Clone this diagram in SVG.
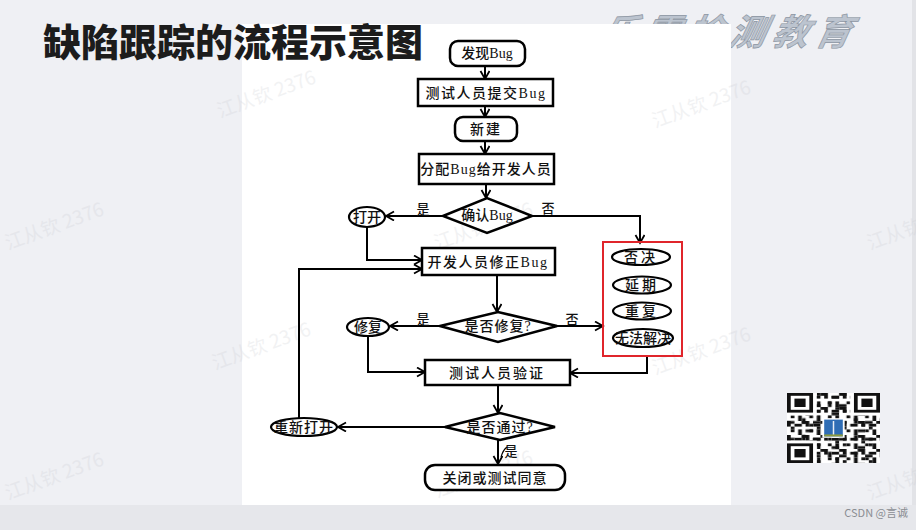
<svg xmlns="http://www.w3.org/2000/svg" width="916" height="530" viewBox="0 0 916 530">
<defs>
<marker id="arr" markerWidth="12" markerHeight="12" refX="9" refY="5" orient="auto" markerUnits="userSpaceOnUse">
<path d="M1,0.5 L9,5 L1,9.5" fill="none" stroke="#000" stroke-width="1.8"/>
</marker>
<pattern id="qa" width="5" height="5" patternUnits="userSpaceOnUse">
<rect x="0" y="0" width="1" height="2" fill="#111"/><rect x="2" y="1" width="2" height="1" fill="#111"/><rect x="1" y="3" width="1" height="1" fill="#111"/><rect x="3" y="3" width="1" height="2" fill="#111"/><rect x="4" y="0" width="1" height="1" fill="#111"/>
</pattern>
<pattern id="qb" width="7" height="6" patternUnits="userSpaceOnUse">
<rect x="1" y="0" width="1" height="1" fill="#111"/><rect x="5" y="1" width="2" height="1" fill="#111"/><rect x="0" y="4" width="2" height="1" fill="#111"/><rect x="4" y="3" width="1" height="2" fill="#111"/><rect x="6" y="5" width="1" height="1" fill="#111"/>
</pattern>
</defs>
<style>
.bg{fill:#eff0f4}
.box{fill:#fff;stroke:#000;stroke-width:2.5}
.oval{fill:#fff;stroke:#000;stroke-width:2.2}
.t{font-family:"Liberation Serif","Noto Sans CJK SC",serif;font-size:14px;font-weight:500;fill:#111;text-anchor:middle;dominant-baseline:central}
.lbl{font-family:"Liberation Serif","Noto Sans CJK SC",serif;font-size:13px;font-weight:500;fill:#111;text-anchor:middle;dominant-baseline:central}
.edge{fill:none;stroke:#000;stroke-width:2}
.wm{font-family:"Noto Sans CJK SC",sans-serif;font-size:19px;fill:#c4c6cc;opacity:0.22}
</style>
<rect class="bg" x="0" y="0" width="916" height="530"/>
<rect x="0" y="505" width="916" height="25" fill="#e6e7eb"/>
<rect x="912" y="0" width="4" height="505" fill="#e2e3e7"/>
<text x="600" y="45" font-family="Noto Sans CJK SC,sans-serif" font-size="36" font-weight="bold" font-style="italic" letter-spacing="7" fill="#bcc4cf" stroke="#8c95a2" stroke-width="0.7" transform="skewX(-12) translate(8,0)">乐霸检测教育</text>
<rect x="242" y="24" width="489" height="481" fill="#fff"/>
<text x="43" y="56" font-family="Noto Sans CJK SC,sans-serif" font-size="38" font-weight="900" fill="#1c1c1c">缺陷跟踪的流程示意图</text>
<g id="watermarks">
<text class="wm" transform="translate(8,250) rotate(-20)">江从钦 2376</text>
<text class="wm" transform="translate(8,500) rotate(-20)">江从钦 2376</text>
<text class="wm" transform="translate(220,118) rotate(-20)">江从钦 2376</text>
<text class="wm" transform="translate(655,128) rotate(-20)">江从钦 2376</text>
<text class="wm" transform="translate(437,250) rotate(-20)">江从钦 2376</text>
<text class="wm" transform="translate(215,370) rotate(-20)">江从钦 2376</text>
<text class="wm" transform="translate(655,375) rotate(-20)">江从钦 2376</text>
<text class="wm" transform="translate(870,250) rotate(-20)">江从钦 2376</text>
<text class="wm" transform="translate(870,500) rotate(-20)">江从钦 2376</text>
<text class="wm" transform="translate(437,498) rotate(-20)">江从钦 2376</text>
</g>
<g id="connectors">
<path class="edge" d="M485,66 V79" marker-end="url(#arr)"/>
<path class="edge" d="M485,106 V117" marker-end="url(#arr)"/>
<path class="edge" d="M485,141 V154" marker-end="url(#arr)"/>
<path class="edge" d="M486,184 V198" marker-end="url(#arr)"/>
<path class="edge" d="M443,216 H386" marker-end="url(#arr)"/>
<path class="edge" d="M532,216 H640 V243" marker-end="url(#arr)"/>
<path class="edge" d="M367,227 V260 H422" marker-end="url(#arr)"/>
<path class="edge" d="M497,275 V312" marker-end="url(#arr)"/>
<path class="edge" d="M440,326 H390" marker-end="url(#arr)"/>
<path class="edge" d="M557,326 H603" marker-end="url(#arr)"/>
<path class="edge" d="M368,335 V372 H425" marker-end="url(#arr)"/>
<path class="edge" d="M647,356 V373 H570" marker-end="url(#arr)"/>
<path class="edge" d="M498,385 V413" marker-end="url(#arr)"/>
<path class="edge" d="M445,427 H338" marker-end="url(#arr)"/>
<path class="edge" d="M299,418 V269 H422" marker-end="url(#arr)"/>
<path class="edge" d="M498,440 V464" marker-end="url(#arr)"/>
<path d="M501,457 Q503,450 507,447" fill="none" stroke="#000" stroke-width="1.2"/>
<text class="lbl" x="423" y="209">是</text>
<text class="lbl" x="548" y="208">否</text>
<text class="lbl" x="423" y="319">是</text>
<text class="lbl" x="572" y="319">否</text>
<text class="lbl" x="511" y="451">是</text>
</g>
<g id="n_found"><rect class="box" x="450" y="41" width="75" height="25" rx="8"/><text class="t" x="487" y="53">发现Bug</text></g>
<g id="n_submit"><rect class="box" x="418" y="79" width="135" height="27"/><text class="t" x="486" y="93" letter-spacing="1.5">测试人员提交Bug</text></g>
<g id="n_new"><rect class="box" x="455" y="117" width="62" height="24" rx="8"/><text class="t" x="486" y="129" letter-spacing="2">新建</text></g>
<g id="n_assign"><rect class="box" x="419" y="154" width="135" height="30"/><text class="t" x="486" y="169" letter-spacing="1">分配Bug给开发人员</text></g>
<g id="n_confirm"><polygon class="box" points="443,216 487,198 532,216 487,233"/><text class="t" x="487" y="215">确认Bug</text></g>
<g id="n_open"><ellipse class="oval" cx="367" cy="217" rx="18" ry="10"/><text class="t" x="367" y="217">打开</text></g>
<g id="n_fix_dev"><rect class="box" x="422" y="248" width="133" height="27"/><text class="t" x="488" y="262" letter-spacing="1.5">开发人员修正Bug</text></g>
<g id="n_isfix"><polygon class="box" points="440,326 498,312 557,326 498,342"/><text class="t" x="498" y="326" letter-spacing="1">是否修复?</text></g>
<g id="n_fixed"><ellipse class="oval" cx="368" cy="327" rx="21" ry="9"/><text class="t" x="368" y="327">修复</text></g>
<g id="n_group"><rect x="603" y="242" width="79" height="114" fill="none" stroke="#e0252b" stroke-width="2"/></g>
<g id="n_reject"><ellipse class="oval" cx="641" cy="257" rx="29" ry="8"/><text class="t" x="641" y="257" letter-spacing="3">否决</text></g>
<g id="n_defer"><ellipse class="oval" cx="642" cy="285" rx="29" ry="8.5"/><text class="t" x="642" y="285" letter-spacing="3">延期</text></g>
<g id="n_dup"><ellipse class="oval" cx="642" cy="311" rx="29" ry="8.5"/><text class="t" x="642" y="311" letter-spacing="3">重复</text></g>
<g id="n_cant"><ellipse class="oval" cx="643" cy="338" rx="30" ry="9"/><text class="t" x="643" y="338">无法解决</text></g>
<g id="n_verify"><rect class="box" x="425" y="360" width="145" height="25"/><text class="t" x="497" y="373" font-size="13" letter-spacing="2">测试人员验证</text></g>
<g id="n_pass"><polygon class="box" points="445,427 500,413 555,427 500,440"/><text class="t" x="500" y="427" font-size="13" letter-spacing="1">是否通过?</text></g>
<g id="n_reopen"><ellipse class="oval" cx="304" cy="427" rx="33" ry="9"/><text class="t" x="304" y="427" font-size="13" letter-spacing="1">重新打开</text></g>
<g id="n_close"><rect class="box" x="425" y="465" width="140" height="25" rx="10"/><text class="t" x="495" y="478" font-size="13" letter-spacing="1">关闭或测试同意</text></g>
<g id="qr" transform="translate(787,393) scale(3.72,2.8)">
<rect x="0" y="0" width="25" height="25" fill="#fff"/>
<rect x="0" y="0" width="25" height="25" fill="url(#qa)"/>
<rect x="0" y="0" width="25" height="25" fill="url(#qb)"/>
<rect x="0" y="0" width="8" height="8" fill="#fff"/><rect x="17" y="0" width="8" height="8" fill="#fff"/><rect x="0" y="17" width="8" height="8" fill="#fff"/>
<rect x="0" y="0" width="7" height="7" fill="#111"/><rect x="1" y="1" width="5" height="5" fill="#fff"/><rect x="2" y="2" width="3" height="3" fill="#111"/>
<rect x="18" y="0" width="7" height="7" fill="#111"/><rect x="19" y="1" width="5" height="5" fill="#fff"/><rect x="20" y="2" width="3" height="3" fill="#111"/>
<rect x="0" y="18" width="7" height="7" fill="#111"/><rect x="1" y="19" width="5" height="5" fill="#fff"/><rect x="2" y="20" width="3" height="3" fill="#111"/>
<rect x="9.5" y="9" width="6" height="7" fill="#fff"/>
<rect x="10" y="9.5" width="5" height="6" fill="#2f6db5"/>
<rect x="12.3" y="10" width="0.4" height="5" fill="#e8eef6"/>
<rect x="10" y="14.8" width="5" height="0.7" fill="#8c9a3c"/>
</g>
<text x="908" y="517" font-family="Noto Sans CJK SC,sans-serif" font-size="11" fill="#8a8d93" text-anchor="end">CSDN @言诚</text>
</svg>
